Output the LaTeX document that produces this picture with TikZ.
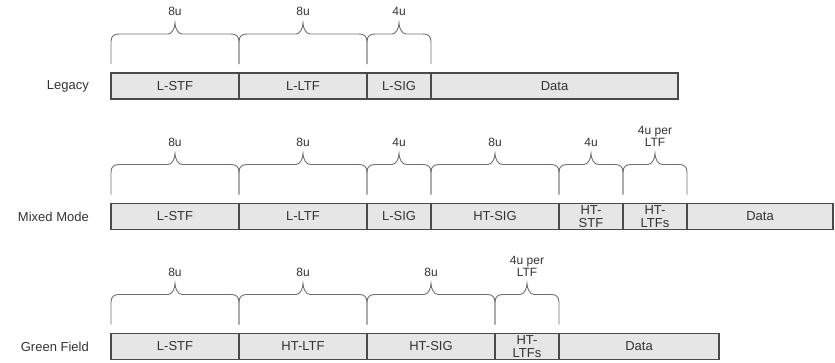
\documentclass[tikz,border=0pt]{standalone}
\usepackage{fontspec}
\setmainfont{Liberation Sans}
\usetikzlibrary{positioning,calc}
\definecolor{fieldgray}{HTML}{E6E6E6}
\definecolor{edgegray}{HTML}{4A4A4A}
\definecolor{bracegray}{HTML}{707070}
\definecolor{textgray}{HTML}{333333}
\tikzset{
  field/.style={draw=edgegray, fill=fieldgray, line width=1.1pt, rectangle, minimum height=26pt, inner sep=0pt, outer sep=0pt, align=center, text=textgray, font=\fontsize{13}{12.5}\selectfont},
  rowlbl/.style={text=textgray, inner sep=0pt, font=\fontsize{13}{15}\selectfont},
  dur/.style={text=textgray, inner sep=0pt, align=center, anchor=south, font=\fontsize{12}{12}\selectfont},
  bline/.style={draw=bracegray, line width=0.9pt},
}
% brace over one field, with its duration on top
\newcommand{\fieldbrace}[2]{%
  \draw[bline] ($(#1.north west)+(0,9)$) -- ++(0,22) .. controls +(0,6) and +(-5,0) .. ++(8,8)
    -- ($(#1.north)+(-7,39)$) .. controls +(4,0) and +(0,-5) .. ++(7,11)
    .. controls +(0,-5) and +(-4,0) .. ++(7,-11)
    -- ($(#1.north east)+(-8,39)$) .. controls +(5,0) and +(0,6) .. ++(8,-8) -- ++(0,-22);
  \node[dur] (#1-d) at ($(#1.north)+(0,57)$) {#2};
}

\begin{document}
\begin{tikzpicture}[x=1pt,y=1pt]
\useasboundingbox (0,0) rectangle (835,-362);
% Legacy
\node[field, minimum width=128pt, anchor=west] (lstf) at (111,-86) {L-STF};
\node[field, minimum width=128pt, right=0pt of lstf] (lltf) {L-LTF};
\node[field, minimum width=64pt, right=0pt of lltf] (lsig) {L-SIG};
\node[field, minimum width=247pt, right=0pt of lsig] (ldata) {Data};
\node[rowlbl, left=22pt of lstf] (legacy) {Legacy};
% Mixed Mode
\node[field, minimum width=128pt, anchor=west] (mstf) at (111,-216.5) {L-STF};
\node[field, minimum width=128pt, right=0pt of mstf] (mltf) {L-LTF};
\node[field, minimum width=64pt, right=0pt of mltf] (msig) {L-SIG};
\node[field, minimum width=128pt, right=0pt of msig] (mhtsig) {HT-SIG};
\node[field, minimum width=64pt, right=0pt of mhtsig] (mhtstf) {HT-\\STF};
\node[field, minimum width=64pt, right=0pt of mhtstf] (mhtltf) {HT-\\LTFs};
\node[field, minimum width=146pt, right=0pt of mhtltf] (mdata) {Data};
\node[rowlbl, left=22pt of mstf] (mixed) {Mixed Mode};
% Green Field
\node[field, minimum width=128pt, anchor=west] (gstf) at (111,-346.5) {L-STF};
\node[field, minimum width=128pt, right=0pt of gstf] (ghtltf) {HT-LTF};
\node[field, minimum width=128pt, right=0pt of ghtltf] (ghtsig) {HT-SIG};
\node[field, minimum width=64pt, right=0pt of ghtsig] (ghtltfs) {HT-\\LTFs};
\node[field, minimum width=160pt, right=0pt of ghtltfs] (gdata) {Data};
\node[rowlbl, left=22pt of gstf] (green) {Green Field};
% braces
\foreach \f/\d in {lstf/8u, lltf/8u, lsig/4u, mstf/8u, mltf/8u, msig/4u, mhtsig/8u, mhtstf/4u, mhtltf/{4u per\\LTF}, gstf/8u, ghtltf/8u, ghtsig/8u, ghtltfs/{4u per\\LTF}}
  \fieldbrace{\f}{\d};
\end{tikzpicture}
\end{document}
